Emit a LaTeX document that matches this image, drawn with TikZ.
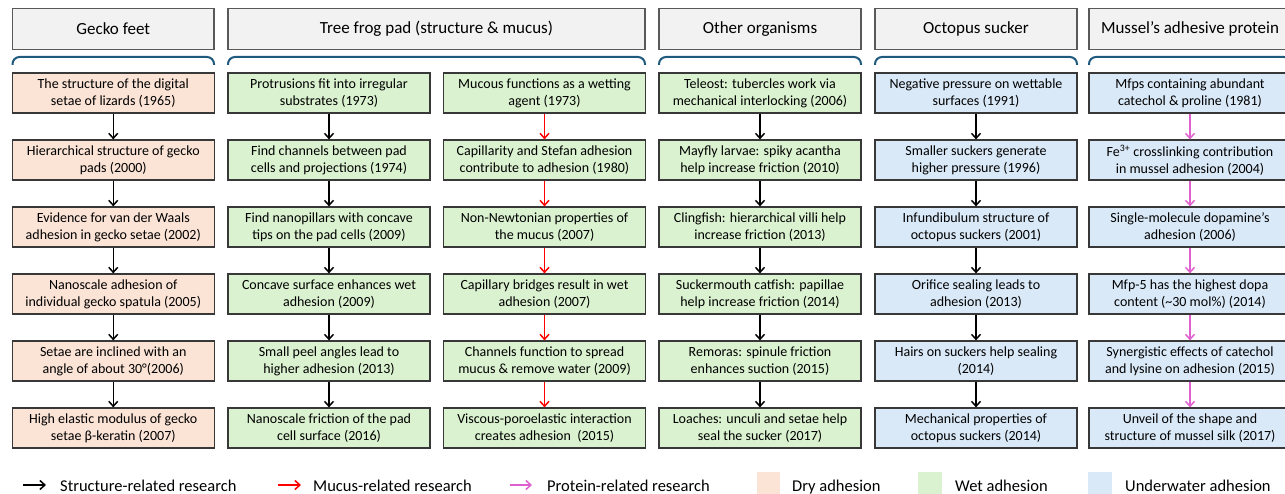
\documentclass[tikz,border=0pt]{standalone}
\usepackage{fontspec}
\setmainfont{Carlito}
\usetikzlibrary{arrows.meta}
\definecolor{dry}{HTML}{FBE3D6}
\definecolor{wet}{HTML}{DAF2D0}
\definecolor{uw}{HTML}{DAE9F8}
\definecolor{hdr}{HTML}{F2F2F2}
\definecolor{brc}{RGB}{31,89,125}
\definecolor{pinkarr}{RGB}{224,96,208}
\definecolor{redarr}{RGB}{255,0,0}
\begin{document}
\begin{tikzpicture}[x=1pt,y=-1pt,
  box/.style={draw=black!78, line width=1.2pt, minimum width=202pt, minimum height=40pt,
    inner sep=0pt, align=center, font=\fontsize{14}{17}\selectfont},
  drybox/.style={box, fill=dry},
  wetbox/.style={box, fill=wet},
  uwbox/.style={box, fill=uw},
  hdrbox/.style={draw=black!65, line width=1.2pt, fill=hdr, minimum height=40.5pt,
    inner sep=0pt, font=\fontsize{17}{20}\selectfont},
  bracepath/.style={draw=brc, line width=2pt, rounded corners=7pt},
  sarr/.style={-{Straight Barb[length=5pt,width=9pt]}, line width=1.5pt},
  legtext/.style={anchor=base west, inner sep=0pt, font=\fontsize{16.5}{19}\selectfont}
]
\useasboundingbox (0,0) rectangle (1285,494);
\clip (0,0) rectangle (1285,494);

% headers
\node[hdrbox, minimum width=201.5pt] (hg) at (113.25,29) {Gecko feet};
\node[hdrbox, minimum width=417pt] (ht) at (436.5,29) {Tree frog pad (structure \& mucus)};
\node[hdrbox, minimum width=202pt] (ho) at (760,29) {Other organisms};
\node[hdrbox, minimum width=202pt] (hc) at (976,29) {Octopus sucker};
\node[hdrbox, minimum width=202pt] (hm) at (1190,29) {Mussel’s adhesive protein};

% braces
\draw[bracepath] (12.5,65) -- (12.5,57) -- (214,57) -- (214,65);
\draw[bracepath] (228,65) -- (228,57) -- (645,57) -- (645,65);
\draw[bracepath] (659,65) -- (659,57) -- (861,57) -- (861,65);
\draw[bracepath] (875,65) -- (875,57) -- (1077,57) -- (1077,65);
\draw[bracepath] (1089,65) -- (1089,57) -- (1291,57) -- (1291,65);

% gecko
\foreach \t [count=\i] in {
  {The structure of the digital\\setae of lizards (1965)},
  {Hierarchical structure of gecko\\pads (2000)},
  {Evidence for van der Waals\\adhesion in gecko setae (2002)},
  {Nanoscale adhesion of\\individual gecko spatula (2005)},
  {Setae are inclined with an\\angle of about 30°(2006)},
  {High elastic modulus of gecko\\setae β-keratin (2007)}}
  \node[drybox] (g\i) at (113.25,{93+67*(\i-1)}) {\t};

% tree frog structure
\foreach \t [count=\i] in {
  {Protrusions fit into irregular\\substrates (1973)},
  {Find channels between pad\\cells and projections (1974)},
  {Find nanopillars with concave\\tips on the pad cells (2009)},
  {Concave surface enhances wet\\adhesion (2009)},
  {Small peel angles lead to\\higher adhesion (2013)},
  {Nanoscale friction of the pad\\cell surface (2016)}}
  \node[wetbox] (s\i) at (329,{93+67*(\i-1)}) {\t};

% tree frog mucus
\foreach \t [count=\i] in {
  {Mucous functions as a wetting\\agent (1973)},
  {Capillarity and Stefan adhesion\\contribute to adhesion (1980)},
  {Non-Newtonian properties of\\the mucus (2007)},
  {Capillary bridges result in wet\\adhesion (2007)},
  {Channels function to spread\\mucus \& remove water (2009)},
  {Viscous-poroelastic interaction\\creates adhesion~ (2015)}}
  \node[wetbox] (m\i) at (544.5,{93+67*(\i-1)}) {\t};

% other organisms
\foreach \t [count=\i] in {
  {Teleost: tubercles work via\\mechanical interlocking (2006)},
  {Mayfly larvae: spiky acantha\\help increase friction (2010)},
  {Clingfish: hierarchical villi help\\increase friction (2013)},
  {Suckermouth catfish: papillae\\help increase friction (2014)},
  {Remoras: spinule friction\\enhances suction (2015)},
  {Loaches: unculi and setae help\\seal the sucker (2017)}}
  \node[wetbox] (o\i) at (760,{93+67*(\i-1)}) {\t};

% octopus
\foreach \t [count=\i] in {
  {Negative pressure on wettable\\surfaces (1991)},
  {Smaller suckers generate\\higher pressure (1996)},
  {Infundibulum structure of\\octopus suckers (2001)},
  {Orifice sealing leads to\\adhesion (2013)},
  {Hairs on suckers help sealing\\(2014)},
  {Mechanical properties of\\octopus suckers (2014)}}
  \node[uwbox] (c\i) at (976,{93+67*(\i-1)}) {\t};

% mussel
\foreach \t [count=\i] in {
  {Mfps containing abundant\\catechol \& proline (1981)},
  {Fe\textsuperscript{3+} crosslinking contribution\\in mussel adhesion (2004)},
  {Single-molecule dopamine’s\\adhesion (2006)},
  {Mfp-5 has the highest dopa\\content (\textasciitilde30 mol\%) (2014)},
  {Synergistic effects of catechol\\and lysine on adhesion (2015)},
  {Unveil of the shape and\\structure of mussel silk (2017)}}
  \node[uwbox] (u\i) at (1190,{93+67*(\i-1)}) {\t};

% arrows
\foreach \i [evaluate=\i as \j using int(\i+1)] in {1,...,5} {
  \draw[sarr, black] (g\i.south) -- (g\j.north);
  \draw[sarr, black] (s\i.south) -- (s\j.north);
  \draw[sarr, redarr] (m\i.south) -- (m\j.north);
  \draw[sarr, black] (o\i.south) -- (o\j.north);
  \draw[sarr, black] (c\i.south) -- (c\j.north);
  \draw[sarr, pinkarr] (u\i.south) -- (u\j.north);
}

% legend
\coordinate (la1) at (23,485);  \coordinate (la2) at (46,485);
\coordinate (lb1) at (278,485); \coordinate (lb2) at (301,485);
\coordinate (lc1) at (510,485); \coordinate (lc2) at (532,485);
\draw[sarr, black] (la1) -- (la2);
\draw[sarr, redarr] (lb1) -- (lb2);
\draw[sarr, pinkarr] (lc1) -- (lc2);
\node[legtext] (lt1) at (60,491) {Structure-related research};
\node[legtext] (lt2) at (313,491) {Mucus-related research};
\node[legtext] (lt3) at (547,491) {Protein-related research};
\fill[dry] (757,472) rectangle (780,500);
\fill[wet] (918,472) rectangle (942,500);
\fill[uw] (1088,472) rectangle (1112,500);
\node[legtext] (lt4) at (792,491) {Dry adhesion};
\node[legtext] (lt5) at (955,491) {Wet adhesion};
\node[legtext] (lt6) at (1125,491) {Underwater adhesion};
\end{tikzpicture}
\end{document}
